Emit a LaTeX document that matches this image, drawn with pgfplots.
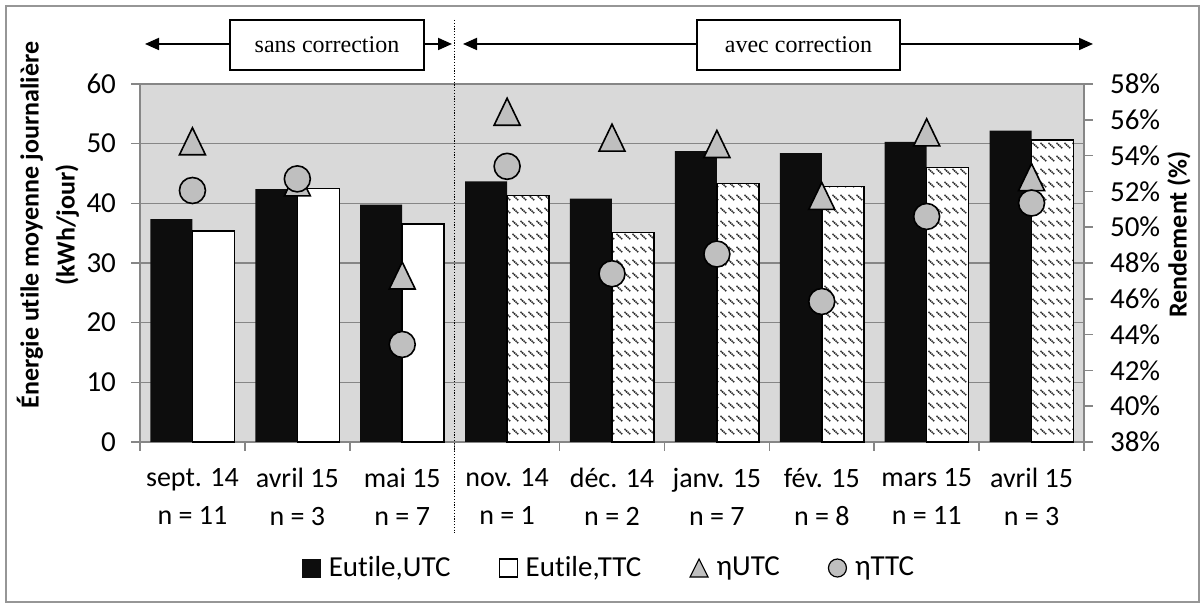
\documentclass[border=0pt]{standalone}
\usepackage{fontspec}
\setmainfont{Carlito}[Ligatures={NoCommon,TeX}]
\newfontfamily\timesfont{Liberation Serif}
\usepackage{pgfplots}
\pgfplotsset{compat=1.18}
\usetikzlibrary{patterns,arrows.meta}

\definecolor{gridgray}{RGB}{134,134,134}
\definecolor{plotbg}{RGB}{217,217,217}
\definecolor{barblack}{RGB}{13,13,13}
\definecolor{markgray}{RGB}{191,191,191}
\definecolor{hatchgray}{RGB}{45,45,45}
\definecolor{framegray}{RGB}{150,150,150}

\pgfdeclarepatternformonly{dashhatch}{\pgfpointorigin}{\pgfpoint{4pt}{6.5pt}}{\pgfpoint{4pt}{6.5pt}}{%
  \pgfsetlinewidth{0.85pt}%
  \pgfsetdash{{0.8pt}{0.35pt}}{0pt}%
  \pgfpathmoveto{\pgfpoint{0.3pt}{5.4pt}}%
  \pgfpathlineto{\pgfpoint{3.5pt}{2.6pt}}%
  \pgfusepath{stroke}}

\pgfdeclareplotmark{xltri}{%
  \pgfpathmoveto{\pgfpoint{0pt}{6.75pt}}%
  \pgfpathlineto{\pgfpoint{6.5pt}{-6.75pt}}%
  \pgfpathlineto{\pgfpoint{-6.5pt}{-6.75pt}}%
  \pgfpathclose
  \pgfusepathqfillstroke}

\pgfplotstableread{
x eu   et   nu    nt
0 37.35 35.4 54.8  52.05
1 42.4  42.5 52.5  52.7
2 39.8  36.5 47.3  43.45
3 43.7  41.3 56.45 53.4
4 40.8  35.1 55.0  47.4
5 48.75 43.3 54.65 48.5
6 48.4  42.8 51.75 45.85
7 50.3  46.0 55.3  50.6
8 52.2  50.6 52.8  51.35
}\datatable

\begin{document}
\begin{tikzpicture}
\begin{scope}[x=0.5pt,y=-0.5pt,shift={(0pt,304pt)}]
  \useasboundingbox (0,0) rectangle (1204,608);
  \fill[white] (0,0) rectangle (1204,608);
  \draw[framegray, line width=0.9pt] (6,6) rectangle (1199,602);
\end{scope}

\begin{axis}[
  at={(70pt,83pt)}, anchor=south west,
  scale only axis, width=472pt, height=179pt,
  xmin=-0.5, xmax=8.5, ymin=0, ymax=60,
  axis background/.style={fill=plotbg},
  axis x line*=bottom, axis y line*=left,
  axis line style={draw=gridgray, line width=0.8pt},
  ytick={0,10,...,60},
  ymajorgrids, grid style={gridgray, line width=0.8pt},
  tick align=outside, major tick length=4.5pt, minor tick length=4.5pt,
  tick style={gridgray, line width=0.8pt},
  xtick={0,...,8},
  major x tick style={draw=none},
  minor xtick={-0.5,0.5,1.5,2.5,3.5,4.5,5.5,6.5,7.5,8.5},
  xticklabels={sept. 14\\n = 11, avril 15\\n = 3, mai 15\\n = 7, nov. 14\\n = 1, déc. 14\\n = 2, janv. 15\\n = 7, fév. 15\\n = 8, mars 15\\n = 11, avril 15\\n = 3},
  xticklabel style={align=center, font=\fontsize{14}{19}\selectfont, yshift=-5pt},
  yticklabel style={font=\fontsize{14.5}{16.8}\selectfont, xshift=-4pt},
  /pgf/number format/assume math mode=true,
  ylabel={Énergie utile moyenne journalière\\(kWh/jour)},
  ylabel style={align=center, font=\fontsize{13}{18}\selectfont\bfseries, at={(rel axis cs:-0.0975,0.606)}, anchor=center},
  clip=false,
]
\addplot[ybar, bar width=21pt, bar shift=-10.5pt, fill=barblack, draw=none] table[x=x, y=eu] {\datatable};
\addplot[ybar, bar width=21pt, bar shift=10.5pt, fill=white, draw=black, line width=0.75pt] coordinates {(0,35.4) (1,42.5) (2,36.5)};
\addplot[ybar, bar width=21pt, bar shift=10.5pt, fill=white, draw=black, line width=0.75pt, postaction={pattern=dashhatch, pattern color=hatchgray}] coordinates {(3,41.3) (4,35.1) (5,43.3) (6,42.8) (7,46.0) (8,50.6)};
\end{axis}

\begin{axis}[
  at={(70pt,83pt)}, anchor=south west,
  scale only axis, width=472pt, height=179pt,
  xmin=-0.5, xmax=8.5, ymin=38, ymax=58,
  axis x line=none, axis y line*=right,
  axis line style={draw=gridgray, line width=0.8pt},
  ytick={38,40,...,58},
  yticklabel={\pgfmathprintnumber{\tick}\%},
  yticklabel style={font=\fontsize{14.5}{16.8}\selectfont, xshift=5pt},
  /pgf/number format/assume math mode=true,
  tick align=outside, major tick length=4.5pt,
  tick style={gridgray, line width=0.8pt},
  ylabel={Rendement (\%)},
  ylabel style={font=\fontsize{13}{18}\selectfont\bfseries, at={(rel axis cs:1.1005,0.58)}, anchor=center},
  legend columns=4,
  legend style={at={(rel axis cs:0.498,-0.352)}, anchor=center, draw=none, fill=none,
    font=\fontsize{14.5}{17}\selectfont,
    /tikz/every even column/.append style={column sep=22pt},
    /tikz/every odd column/.append style={column sep=2pt}},
  clip=false,
]
\addlegendimage{legend image code/.code={\draw[fill=barblack,draw=barblack] (0pt,-4.5pt) rectangle (9pt,4.5pt);}}
\addlegendentry{Eutile,UTC}
\addlegendimage{legend image code/.code={\draw[fill=white,draw=black,line width=0.6pt] (0pt,-4.5pt) rectangle (9pt,4.5pt);}}
\addlegendentry{Eutile,TTC}
\addplot[only marks, mark=xltri, mark options={fill=markgray, draw=black, line width=0.8pt},
  legend image code/.code={\draw[fill=markgray,draw=black,line width=0.6pt] (0pt,-4.5pt) -- (9pt,-4.5pt) -- (4.5pt,4.5pt) -- cycle;}]
  table[x=x, y=nu] {\datatable};
\addlegendentry{ηUTC}
\addplot[only marks, mark=*, mark size=6.5pt, mark options={fill=markgray, draw=black, line width=0.8pt},
  legend image code/.code={\draw[fill=markgray,draw=black,line width=0.6pt] (4.5pt,0pt) circle (4.5pt);}]
  table[x=x, y=nt] {\datatable};
\addlegendentry{ηTTC}
\end{axis}

\begin{scope}[x=0.5pt,y=-0.5pt,shift={(0pt,304pt)}]
  \draw[black, line width=0.6pt, dash pattern=on 0.6pt off 0.8pt] (454.7,20) -- (454.7,533);
  \draw[line width=0.9pt, -{Triangle[length=7pt,width=6pt]}] (230,44) -- (145,44);
  \draw[line width=0.9pt, -{Triangle[length=7pt,width=6pt]}] (424,44) -- (452,44);
  \draw[line width=0.9pt, -{Triangle[length=7pt,width=6pt]}] (697,44) -- (463,44);
  \draw[line width=0.9pt, -{Triangle[length=7pt,width=6pt]}] (900,44) -- (1093,44);
  \draw[line width=0.9pt, fill=white] (230,20) rectangle (424,70);
  \draw[line width=0.9pt, fill=white] (697,20) rectangle (900,70);
  \node[font=\timesfont\fontsize{12}{14}\selectfont] at (327,45) {sans correction};
  \node[font=\timesfont\fontsize{12}{14}\selectfont] at (798.5,45) {avec correction};
\end{scope}
\end{tikzpicture}
\end{document}
